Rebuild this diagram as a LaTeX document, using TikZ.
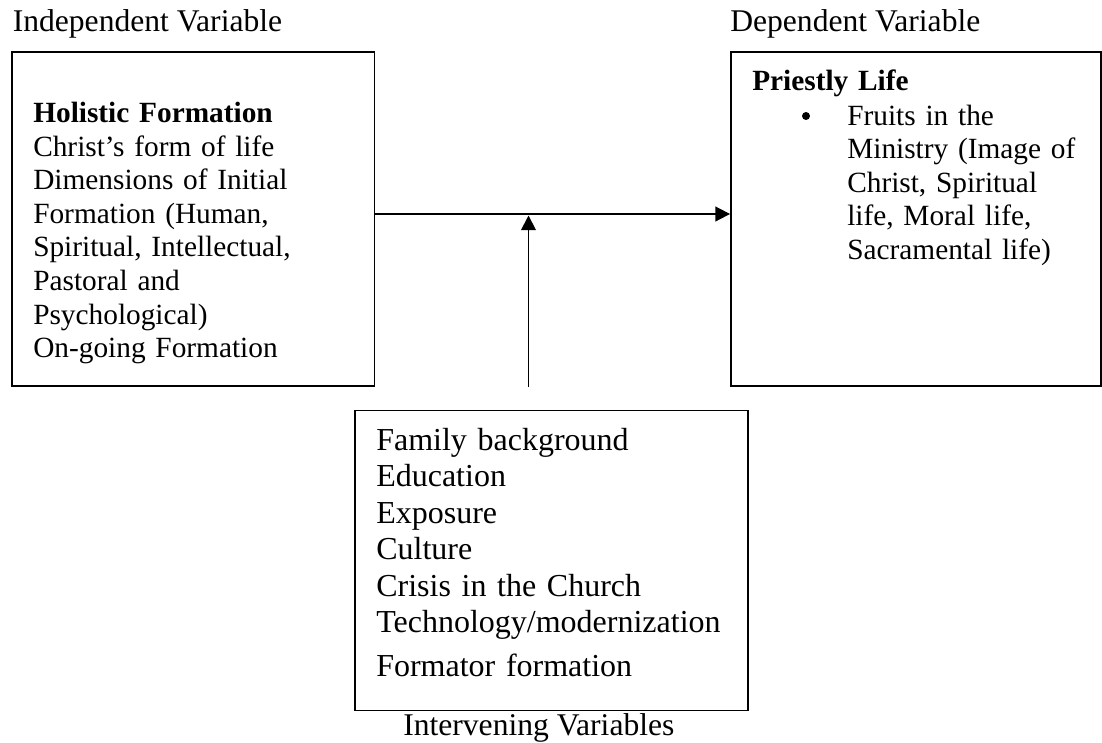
\documentclass[tikz,border=0pt]{standalone}
\usepackage{fontspec}
\setmainfont{Liberation Serif}
\usetikzlibrary{arrows.meta}
\begin{document}
\begin{tikzpicture}[x=0.75pt,y=-0.75pt,
  box/.style={draw=black, line width=1.4pt, rectangle, inner sep=0pt},
  arr/.style={line width=1.4pt, -{Triangle[length=11pt,width=11pt]}},
  dot/.style={circle, fill=black, inner sep=0pt, minimum size=6pt},
  lbl/.style={anchor=base west, inner sep=0pt, font=\fontsize{23.7}{28}\selectfont},
  sidetext/.style={anchor=base west, inner sep=0pt, align=left, text width=250pt,
     font=\fontsize{22}{25.2}\selectfont},
  bottext/.style={anchor=base west, inner sep=0pt, align=left, text width=290pt,
     font=\fontsize{24}{27.4}\selectfont}]
\fill[white] (0,0) rectangle (1102,742);
\useasboundingbox (0,0) rectangle (1102,742);

% labels
\node[lbl] (indlbl) at (12.5,32) {Independent Variable};
\node[lbl] (deplbl) at (730,32) {Dependent Variable};
\node[lbl] (intlbl) at (403,735) {Intervening Variables};

% boxes
\node[box, minimum width=271.9pt, minimum height=250.5pt] (ind) at (193.25,219) {};
\node[box, minimum width=277.5pt, minimum height=250.5pt] (dep) at (916,219) {};
\node[box, minimum width=294.75pt, minimum height=225pt] (int) at (551.5,560.5) {};

% left text
\node[sidetext] (indtxt) at (33,122.5) {\textbf{Holistic Formation}\\
Christ’s form of life\\
Dimensions of Initial\\
Formation (Human,\\
Spiritual, Intellectual,\\
Pastoral and\\
Psychological)\\
On-going Formation};

% right text
\node[sidetext] (deptitle) at (752,90) {\textbf{Priestly Life}};
\node[dot] (bullet) at (806,116) {};
\node[sidetext, text width=230pt] (deptxt) at (847,125) {Fruits in the\\
Ministry (Image of\\
Christ, Spiritual\\
life, Moral life,\\
Sacramental life)};

% bottom text
\node[bottext] (inttxt) at (376,450) {Family background\\
Education\\
Exposure\\
Culture\\
Crisis in the Church\\
Technology/modernization\\[5.2pt]
Formator formation};

% connectors
\draw[arr] ([yshift=3.75pt]ind.east) -- ([yshift=3.75pt]dep.west);
\coordinate (vstart) at (528.5,387);
\coordinate (vend) at (528.5,215.5);
\draw[arr] (vstart) -- (vend);
\end{tikzpicture}
\end{document}
